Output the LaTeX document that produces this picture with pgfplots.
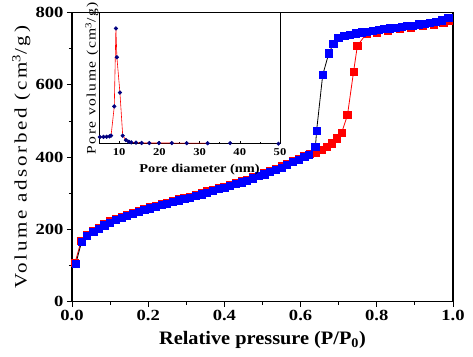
\documentclass[border=0pt]{standalone}
\usepackage{fontspec}
\setmainfont{Liberation Serif}[FakeStretch=1.2]
\newfontfamily\xlfont{Liberation Serif}[FakeStretch=1.07]
\usepackage{pgfplots}
\pgfplotsset{compat=1.18}
\begin{document}
\begin{tikzpicture}
\begin{axis}[name=main, at={(0,0)}, anchor=south west,
  scale only axis, width=381pt, height=289.2pt,
  xmin=0, xmax=1, ymin=0, ymax=800,
  xtick={0,0.2,...,1.0}, minor xtick={0.1,0.3,...,0.9},
  ytick={0,200,...,800}, minor ytick={100,300,...,700},
  xtick pos=left, ytick pos=left, tick align=outside,
  major tick length=5pt, minor tick length=3pt,
  axis line style={line width=1.1pt}, every tick/.style={line width=0.9pt, black},
  /pgf/number format/assume math mode=true,
  xticklabel style={/pgf/number format/.cd, fixed, fixed zerofill, precision=1},
  ticklabel style={font=\fontsize{15.5}{18}\selectfont\bfseries},
  xlabel={\xlfont\fontsize{19}{22}\selectfont\bfseries Relative pressure (P/P\textsubscript{0})},
  ylabel={\addfontfeature{LetterSpace=15}\fontsize{17.5}{20}\selectfont Volume adsorbed (cm\textsuperscript{3}/g)},
  xlabel style={at={(0.5,0)}, yshift=-26pt, anchor=north},
  ylabel style={at={(0,0.5)}, yshift=38pt},
  clip=false]
\addplot[red, line width=0.8pt, mark=square*, mark size=3.6pt, mark options={fill=red, draw=red}] coordinates {
(0.008,108) (0.024,168) (0.040,184) (0.056,196) (0.071,205) (0.085,214) (0.100,222)
(0.115,229) (0.130,235) (0.145,241) (0.160,246) (0.175,251) (0.190,256) (0.205,261)
(0.220,265) (0.235,270) (0.250,274) (0.265,278) (0.280,283) (0.295,287) (0.310,291)
(0.325,296) (0.340,300) (0.355,305) (0.370,309) (0.385,314) (0.400,318) (0.415,323)
(0.430,328) (0.445,333) (0.460,338) (0.475,344) (0.490,349) (0.505,355) (0.520,361)
(0.535,367) (0.550,374) (0.565,381) (0.580,388) (0.595,395) (0.610,402) (0.625,408)
(0.640,413) (0.655,420) (0.668,428) (0.682,438) (0.696,452) (0.708,468) (0.723,516)
(0.739,636) (0.749,708) (0.773,742) (0.800,745) (0.830,750) (0.860,754) (0.890,758)
(0.920,762) (0.950,767) (0.975,772) (0.990,778)};
\addplot[black, line width=0.8pt, mark=square*, mark size=3.6pt, mark options={fill=blue, draw=blue}] coordinates {
(0.010,105) (0.025,165) (0.040,181) (0.056,193) (0.071,202) (0.085,211) (0.100,219)
(0.115,226) (0.130,232) (0.145,238) (0.160,243) (0.175,248) (0.190,253) (0.205,258)
(0.220,262) (0.235,267) (0.250,271) (0.265,275) (0.280,280) (0.295,284) (0.310,288)
(0.325,293) (0.340,297) (0.355,302) (0.370,306) (0.385,311) (0.400,315) (0.415,320)
(0.430,325) (0.445,330) (0.460,335) (0.475,341) (0.490,347) (0.505,352) (0.520,358)
(0.535,364) (0.550,371) (0.565,378) (0.580,386) (0.595,393) (0.610,400) (0.622,406)
(0.639,429) (0.642,473) (0.658,627) (0.674,687) (0.686,713) (0.699,729) (0.715,735)
(0.730,739) (0.745,742) (0.760,745) (0.775,747) (0.790,750) (0.805,752) (0.820,754)
(0.835,756) (0.850,758) (0.865,760) (0.880,762) (0.895,764) (0.910,767) (0.925,769)
(0.940,772) (0.955,775) (0.970,778) (0.988,784)};
\end{axis}
\begin{axis}[name=inset, at={(27pt,158pt)}, anchor=south west,
  scale only axis, width=181pt, height=131pt,
  xmin=5, xmax=50, ymin=0, ymax=1,
  xtick={10,20,...,50}, minor xtick={15,25,...,45}, ytick=\empty,
  xtick pos=left, tick align=inside,
  major tick length=3pt, minor tick length=2pt,
  axis line style={line width=0.6pt}, every tick/.style={line width=0.5pt, black},
  /pgf/number format/assume math mode=true,
  ticklabel style={font=\fontsize{10.5}{12}\selectfont\bfseries},
  xticklabel style={yshift=-1pt},
  xlabel={\fontsize{12}{14}\selectfont\bfseries Pore diameter (nm)},
  ylabel={\addfontfeature{LetterSpace=12}\fontsize{13}{15}\selectfont Pore volume (cm\textsuperscript{3}/g)},
  xlabel style={yshift=-2pt, xshift=10pt},
  ylabel style={yshift=-3pt},
  axis background/.style={fill=white}]
\addplot[red, line width=0.6pt, mark=*, mark size=1.8pt, mark options={fill=blue!50!black, draw=blue!50!black}] coordinates {
(5.2,0.051) (6.1,0.052) (6.9,0.053) (7.6,0.056) (8.0,0.062) (8.8,0.285) (9.2,0.88)
(9.45,0.66) (10.2,0.39) (10.9,0.061) (11.7,0.028) (12.4,0.015) (13.0,0.010) (14.2,0.008)
(15.6,0.006) (17.5,0.005) (19.9,0.005) (23.1,0.005) (26.8,0.004) (32.0,0.004)};
\addplot[only marks, mark=*, mark size=1.8pt, mark options={fill=blue!50!black, draw=blue!50!black}] coordinates {
(37.6,0.004) (49.6,0.0)};
\end{axis}
\pgfresetboundingbox
\path (main.south west) ++(-72pt,-54.3pt) coordinate (bl);
\path (main.north east) ++(20pt,12.5pt) coordinate (tr);
\path[use as bounding box] (bl) rectangle (tr);
\end{tikzpicture}
\end{document}
